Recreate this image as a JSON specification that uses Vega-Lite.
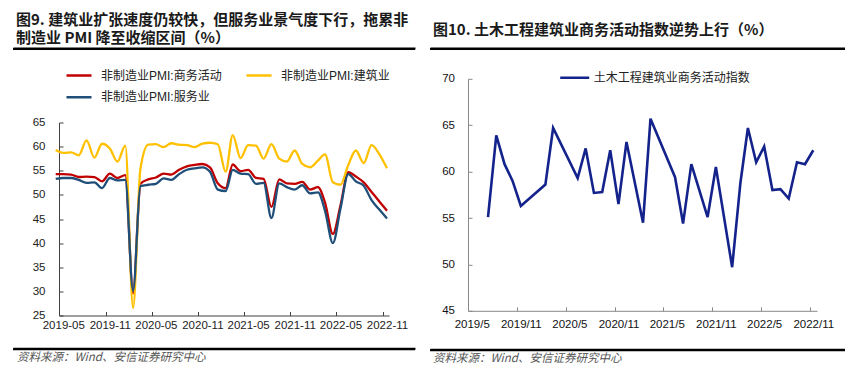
{
  "$schema": "https://vega.github.io/schema/vega-lite/v6.json",
  "padding": {"left": 13, "top": 12, "right": 0, "bottom": 0},
  "background": "white",
  "config": {
    "view": {"stroke": null},
    "font": "Liberation Sans, Noto Sans CJK SC",
    "title": {"font": "Noto Sans CJK SC", "fontWeight": "bold", "fontSize": 15, "color": "#1a1a1a", "anchor": "start"}
  },
  "spacing": 15,
  "resolve": {"scale": {"color": "independent", "x": "independent", "y": "independent"}, "legend": {"color": "independent"}},
  "hconcat": [
    {
      "title": {"text": ["图9. 建筑业扩张速度仍较快，但服务业景气度下行，拖累非", "制造业 PMI 降至收缩区间（%）"], "lineHeight": 18, "offset": 2.5, "dx": 3},
      "spacing": 17.25,
      "resolve": {"scale": {"color": "independent", "x": "independent", "y": "independent"}, "legend": {"color": "independent"}},
      "vconcat": [
        {
          "spacing": 17.5,
          "resolve": {"scale": {"color": "independent", "x": "independent", "y": "independent"}, "legend": {"color": "independent"}},
          "vconcat": [
            {"width": 402, "height": 2, "data": {"values": [{"k": 1}]}, "mark": {"type": "bar", "color": "#000000"}, "encoding": {"x": {"datum": 0, "type": "quantitative", "scale": {"domain": [0, 1]}, "axis": {"orient": "top", "domain": true, "domainColor": "#000000", "domainWidth": 2, "domainCap": "butt", "ticks": false, "labels": false, "grid": false, "title": null}}, "x2": {"datum": 1}}},
            {
              "spacing": 0,
              "resolve": {"scale": {"color": "independent", "x": "independent", "y": "independent"}, "legend": {"color": "independent"}},
              "hconcat": [
                {"width": 1, "height": 1, "data": {"values": [{"k": 1}]}, "mark": {"type": "text", "text": ""}, "encoding": {}},
                {
                  "width": 330,
                  "height": 193,
                  "data": {"values": [
                    {"m": "2019-04", "非制造业PMI:商务活动": 54.3, "非制造业PMI:建筑业": 59.3, "非制造业PMI:服务业": 53.3},
                    {"m": "2019-05", "非制造业PMI:商务活动": 54.3, "非制造业PMI:建筑业": 58.7, "非制造业PMI:服务业": 53.5},
                    {"m": "2019-06", "非制造业PMI:商务活动": 54.2, "非制造业PMI:建筑业": 58.8, "非制造业PMI:服务业": 53.5},
                    {"m": "2019-07", "非制造业PMI:商务活动": 53.7, "非制造业PMI:建筑业": 58.2, "非制造业PMI:服务业": 53.1},
                    {"m": "2019-08", "非制造业PMI:商务活动": 53.8, "非制造业PMI:建筑业": 61.3, "非制造业PMI:服务业": 52.5},
                    {"m": "2019-09", "非制造业PMI:商务活动": 53.7, "非制造业PMI:建筑业": 57.7, "非制造业PMI:服务业": 52.6},
                    {"m": "2019-10", "非制造业PMI:商务活动": 52.8, "非制造业PMI:建筑业": 60.6, "非制造业PMI:服务业": 51.4},
                    {"m": "2019-11", "非制造业PMI:商务活动": 54.4, "非制造业PMI:建筑业": 59.6, "非制造业PMI:服务业": 53.5},
                    {"m": "2019-12", "非制造业PMI:商务活动": 53.5, "非制造业PMI:建筑业": 56.9, "非制造业PMI:服务业": 53.0},
                    {"m": "2020-01", "非制造业PMI:商务活动": 54.1, "非制造业PMI:建筑业": 60.2, "非制造业PMI:服务业": 53.1},
                    {"m": "2020-02", "非制造业PMI:商务活动": 29.6, "非制造业PMI:建筑业": 26.6, "非制造业PMI:服务业": 30.1},
                    {"m": "2020-03", "非制造业PMI:商务活动": 52.3, "非制造业PMI:建筑业": 55.4, "非制造业PMI:服务业": 51.8},
                    {"m": "2020-04", "非制造业PMI:商务活动": 53.2, "非制造业PMI:建筑业": 60.4, "非制造业PMI:服务业": 52.1},
                    {"m": "2020-05", "非制造业PMI:商务活动": 53.6, "非制造业PMI:建筑业": 60.5, "非制造业PMI:服务业": 52.3},
                    {"m": "2020-06", "非制造业PMI:商务活动": 54.4, "非制造业PMI:建筑业": 59.9, "非制造业PMI:服务业": 53.4},
                    {"m": "2020-07", "非制造业PMI:商务活动": 54.2, "非制造业PMI:建筑业": 60.7, "非制造业PMI:服务业": 53.1},
                    {"m": "2020-08", "非制造业PMI:商务活动": 55.2, "非制造业PMI:建筑业": 60.4, "非制造业PMI:服务业": 54.3},
                    {"m": "2020-09", "非制造业PMI:商务活动": 55.9, "非制造业PMI:建筑业": 60.3, "非制造业PMI:服务业": 55.2},
                    {"m": "2020-10", "非制造业PMI:商务活动": 56.2, "非制造业PMI:建筑业": 59.9, "非制造业PMI:服务业": 55.5},
                    {"m": "2020-11", "非制造业PMI:商务活动": 56.4, "非制造业PMI:建筑业": 60.6, "非制造业PMI:服务业": 55.7},
                    {"m": "2020-12", "非制造业PMI:商务活动": 55.7, "非制造业PMI:建筑业": 60.8, "非制造业PMI:服务业": 54.8},
                    {"m": "2021-01", "非制造业PMI:商务活动": 52.4, "非制造业PMI:建筑业": 60.5, "非制造业PMI:服务业": 51.1},
                    {"m": "2021-02", "非制造业PMI:商务活动": 51.4, "非制造业PMI:建筑业": 54.8, "非制造业PMI:服务业": 50.8},
                    {"m": "2021-03", "非制造业PMI:商务活动": 56.3, "非制造业PMI:建筑业": 62.4, "非制造业PMI:服务业": 55.2},
                    {"m": "2021-04", "非制造业PMI:商务活动": 54.9, "非制造业PMI:建筑业": 57.6, "非制造业PMI:服务业": 54.4},
                    {"m": "2021-05", "非制造业PMI:商务活动": 55.2, "非制造业PMI:建筑业": 60.3, "非制造业PMI:服务业": 54.3},
                    {"m": "2021-06", "非制造业PMI:商务活动": 53.5, "非制造业PMI:建筑业": 60.2, "非制造业PMI:服务业": 52.3},
                    {"m": "2021-07", "非制造业PMI:商务活动": 53.3, "非制造业PMI:建筑业": 57.5, "非制造业PMI:服务业": 52.5},
                    {"m": "2021-08", "非制造业PMI:商务活动": 47.5, "非制造业PMI:建筑业": 60.5, "非制造业PMI:服务业": 45.2},
                    {"m": "2021-09", "非制造业PMI:商务活动": 53.2, "非制造业PMI:建筑业": 57.5, "非制造业PMI:服务业": 52.4},
                    {"m": "2021-10", "非制造业PMI:商务活动": 52.4, "非制造业PMI:建筑业": 56.9, "非制造业PMI:服务业": 51.6},
                    {"m": "2021-11", "非制造业PMI:商务活动": 52.3, "非制造业PMI:建筑业": 59.2, "非制造业PMI:服务业": 51.1},
                    {"m": "2021-12", "非制造业PMI:商务活动": 52.7, "非制造业PMI:建筑业": 56.4, "非制造业PMI:服务业": 52.0},
                    {"m": "2022-01", "非制造业PMI:商务活动": 51.1, "非制造业PMI:建筑业": 55.7, "非制造业PMI:服务业": 50.3},
                    {"m": "2022-02", "非制造业PMI:商务活动": 51.6, "非制造业PMI:建筑业": 57.1, "非制造业PMI:服务业": 50.5},
                    {"m": "2022-03", "非制造业PMI:商务活动": 48.4, "非制造业PMI:建筑业": 58.4, "非制造业PMI:服务业": 46.7},
                    {"m": "2022-04", "非制造业PMI:商务活动": 41.9, "非制造业PMI:建筑业": 52.6, "非制造业PMI:服务业": 40.0},
                    {"m": "2022-05", "非制造业PMI:商务活动": 47.8, "非制造业PMI:建筑业": 52.1, "非制造业PMI:服务业": 47.1},
                    {"m": "2022-06", "非制造业PMI:商务活动": 54.7, "非制造业PMI:建筑业": 56.2, "非制造业PMI:服务业": 54.3},
                    {"m": "2022-07", "非制造业PMI:商务活动": 53.8, "非制造业PMI:建筑业": 59.2, "非制造业PMI:服务业": 52.8},
                    {"m": "2022-08", "非制造业PMI:商务活动": 52.6, "非制造业PMI:建筑业": 56.6, "非制造业PMI:服务业": 51.9},
                    {"m": "2022-09", "非制造业PMI:商务活动": 50.6, "非制造业PMI:建筑业": 60.3, "非制造业PMI:服务业": 48.9},
                    {"m": "2022-10", "非制造业PMI:商务活动": 48.7, "非制造业PMI:建筑业": 58.5, "非制造业PMI:服务业": 47.0},
                    {"m": "2022-11", "非制造业PMI:商务活动": 46.7, "非制造业PMI:建筑业": 55.5, "非制造业PMI:服务业": 45.1}
                  ]},
                  "transform": [{"fold": ["非制造业PMI:商务活动", "非制造业PMI:建筑业", "非制造业PMI:服务业"], "as": ["series", "value"]}],
                  "mark": {"type": "line", "interpolate": "monotone", "strokeWidth": 2.3, "clip": false},
                  "encoding": {
                    "x": {
                      "field": "m", "type": "temporal",
                      "scale": {"type": "utc", "domain": [{"year": 2019, "month": 4, "date": 14, "utc": true}, {"year": 2022, "month": 11, "date": 9, "utc": true}]},
                      "axis": {
                        "title": null, "format": "%Y-%m", "grid": false,
                        "values": [
                          {"year": 2019, "month": 5, "date": 1, "utc": true}, {"year": 2019, "month": 11, "date": 1, "utc": true},
                          {"year": 2020, "month": 5, "date": 1, "utc": true}, {"year": 2020, "month": 11, "date": 1, "utc": true},
                          {"year": 2021, "month": 5, "date": 1, "utc": true}, {"year": 2021, "month": 11, "date": 1, "utc": true},
                          {"year": 2022, "month": 5, "date": 1, "utc": true}, {"year": 2022, "month": 11, "date": 1, "utc": true}
                        ],
                        "domainColor": "#404040", "tickColor": "#404040", "tickSize": -4, "tickOffset": -4.3, "labelOffset": 4.3,
                        "labelFontSize": 11.5, "labelColor": "#222222", "labelPadding": 8, "labelFlush": false, "labelOverlap": false
                      }
                    },
                    "y": {
                      "field": "value", "type": "quantitative",
                      "scale": {"domain": [25, 65], "zero": false},
                      "axis": {
                        "title": null, "grid": false, "values": [25, 30, 35, 40, 45, 50, 55, 60, 65],
                        "domainColor": "#404040", "tickColor": "#404040", "tickSize": -4,
                        "labelFontSize": 11.5, "labelColor": "#222222", "labelPadding": 18, "minExtent": 45
                      }
                    },
                    "color": {
                      "field": "series", "type": "nominal",
                      "scale": {"domain": ["非制造业PMI:商务活动", "非制造业PMI:建筑业", "非制造业PMI:服务业"], "range": ["#C00000", "#FFC000", "#1F4E79"]},
                      "legend": {
                        "title": null, "orient": "none", "legendX": 6, "legendY": -54.5, "direction": "horizontal", "columns": 2,
                        "columnPadding": 23, "rowPadding": 6.7, "symbolType": "stroke", "symbolSize": 625, "symbolStrokeWidth": 2.5,
                        "clipHeight": 15, "labelFontSize": 12, "labelColor": "#222222", "labelOffset": 8, "labelLimit": 300, "padding": 0
                      }
                    }
                  }
                }
              ]
            }
          ]
        },
        {
          "width": 402, "height": 2, "data": {"values": [{"k": 1}]}, "mark": {"type": "bar", "color": "#000000"}, "encoding": {"x": {"datum": 0, "type": "quantitative", "scale": {"domain": [0, 1]}, "axis": {"orient": "top", "domain": true, "domainColor": "#000000", "domainWidth": 2, "domainCap": "butt", "ticks": false, "labels": false, "grid": false, "title": null}}, "x2": {"datum": 1}},
          "title": {"text": "资料来源：Wind、安信证券研究中心", "orient": "bottom", "anchor": "start", "fontSize": 11.5, "fontWeight": "normal", "fontStyle": "italic", "color": "#555555", "offset": 2, "dx": 4}
        }
      ]
    },
    {
      "title": {"text": "图10. 土木工程建筑业商务活动指数逆势上行（%）", "offset": 10, "dx": 3},
      "spacing": 18.25,
      "resolve": {"scale": {"color": "independent", "x": "independent", "y": "independent"}, "legend": {"color": "independent"}},
      "vconcat": [
        {
          "spacing": 19.8,
          "resolve": {"scale": {"color": "independent", "x": "independent", "y": "independent"}, "legend": {"color": "independent"}},
          "vconcat": [
            {"width": 415, "height": 2, "data": {"values": [{"k": 1}]}, "mark": {"type": "bar", "color": "#000000"}, "encoding": {"x": {"datum": 0, "type": "quantitative", "scale": {"domain": [0, 1]}, "axis": {"orient": "top", "domain": true, "domainColor": "#000000", "domainWidth": 2, "domainCap": "butt", "ticks": false, "labels": false, "grid": false, "title": null}}, "x2": {"datum": 1}}},
            {
              "spacing": 0,
              "resolve": {"scale": {"color": "independent", "x": "independent", "y": "independent"}, "legend": {"color": "independent"}},
              "hconcat": [
                {"width": 1, "height": 1, "data": {"values": [{"k": 1}]}, "mark": {"type": "text", "text": ""}, "encoding": {}},
                {
                  "width": 349,
                  "height": 232,
                  "data": {"values": [
                    {"m": "2019-07", "series": "土木工程建筑业商务活动指数", "value": 55.1},
                    {"m": "2019-08", "series": "土木工程建筑业商务活动指数", "value": 63.9},
                    {"m": "2019-09", "series": "土木工程建筑业商务活动指数", "value": 60.8},
                    {"m": "2019-10", "series": "土木工程建筑业商务活动指数", "value": 59.0},
                    {"m": "2019-11", "series": "土木工程建筑业商务活动指数", "value": 56.3},
                    {"m": "2020-02", "series": "土木工程建筑业商务活动指数", "value": 58.6},
                    {"m": "2020-03", "series": "土木工程建筑业商务活动指数", "value": 64.7},
                    {"m": "2020-06", "series": "土木工程建筑业商务活动指数", "value": 59.3},
                    {"m": "2020-07", "series": "土木工程建筑业商务活动指数", "value": 62.5},
                    {"m": "2020-08", "series": "土木工程建筑业商务活动指数", "value": 57.7},
                    {"m": "2020-09", "series": "土木工程建筑业商务活动指数", "value": 57.8},
                    {"m": "2020-10", "series": "土木工程建筑业商务活动指数", "value": 62.3},
                    {"m": "2020-11", "series": "土木工程建筑业商务活动指数", "value": 56.5},
                    {"m": "2020-12", "series": "土木工程建筑业商务活动指数", "value": 63.2},
                    {"m": "2021-02", "series": "土木工程建筑业商务活动指数", "value": 54.5},
                    {"m": "2021-03", "series": "土木工程建筑业商务活动指数", "value": 65.7},
                    {"m": "2021-06", "series": "土木工程建筑业商务活动指数", "value": 59.4},
                    {"m": "2021-07", "series": "土木工程建筑业商务活动指数", "value": 54.4},
                    {"m": "2021-08", "series": "土木工程建筑业商务活动指数", "value": 60.8},
                    {"m": "2021-10", "series": "土木工程建筑业商务活动指数", "value": 55.1},
                    {"m": "2021-11", "series": "土木工程建筑业商务活动指数", "value": 60.5},
                    {"m": "2022-01", "series": "土木工程建筑业商务活动指数", "value": 49.7},
                    {"m": "2022-02", "series": "土木工程建筑业商务活动指数", "value": 58.8},
                    {"m": "2022-03", "series": "土木工程建筑业商务活动指数", "value": 64.7},
                    {"m": "2022-04", "series": "土木工程建筑业商务活动指数", "value": 61.0},
                    {"m": "2022-05", "series": "土木工程建筑业商务活动指数", "value": 62.7},
                    {"m": "2022-06", "series": "土木工程建筑业商务活动指数", "value": 58.0},
                    {"m": "2022-07", "series": "土木工程建筑业商务活动指数", "value": 58.1},
                    {"m": "2022-08", "series": "土木工程建筑业商务活动指数", "value": 57.1},
                    {"m": "2022-09", "series": "土木工程建筑业商务活动指数", "value": 61.0},
                    {"m": "2022-10", "series": "土木工程建筑业商务活动指数", "value": 60.8},
                    {"m": "2022-11", "series": "土木工程建筑业商务活动指数", "value": 62.3}
                  ]},
                  "mark": {"type": "line", "strokeWidth": 2.6, "clip": false},
                  "encoding": {
                    "x": {
                      "field": "m", "type": "temporal",
                      "scale": {"type": "utc", "domain": [{"year": 2019, "month": 4, "date": 17, "utc": true}, {"year": 2022, "month": 11, "date": 15, "utc": true}]},
                      "axis": {
                        "title": null, "format": "%Y/%-m", "grid": false,
                        "values": [
                          {"year": 2019, "month": 5, "date": 1, "utc": true}, {"year": 2019, "month": 11, "date": 1, "utc": true},
                          {"year": 2020, "month": 5, "date": 1, "utc": true}, {"year": 2020, "month": 11, "date": 1, "utc": true},
                          {"year": 2021, "month": 5, "date": 1, "utc": true}, {"year": 2021, "month": 11, "date": 1, "utc": true},
                          {"year": 2022, "month": 5, "date": 1, "utc": true}, {"year": 2022, "month": 11, "date": 1, "utc": true}
                        ],
                        "domainColor": "#898989", "tickColor": "#898989", "tickSize": -4, "tickOffset": -3.6, "labelOffset": 3.6,
                        "labelFontSize": 11.5, "labelColor": "#111111", "labelPadding": 12, "labelFlush": false, "labelOverlap": false
                      }
                    },
                    "y": {
                      "field": "value", "type": "quantitative",
                      "scale": {"domain": [45, 70], "zero": false},
                      "axis": {
                        "title": null, "grid": false, "values": [45, 50, 55, 60, 65, 70],
                        "domainColor": "#898989", "tickColor": "#898989", "tickSize": -4,
                        "labelFontSize": 11.5, "labelColor": "#111111", "labelPadding": 17.5, "minExtent": 37
                      }
                    },
                    "color": {
                      "field": "series", "type": "nominal",
                      "scale": {"range": ["#14238C"]},
                      "legend": {
                        "title": null, "orient": "none", "legendX": 90.7, "legendY": -8.5,
                        "symbolType": "stroke", "symbolSize": 841, "symbolStrokeWidth": 2.6, "clipHeight": 15,
                        "labelFontSize": 12, "labelColor": "#222222", "labelOffset": 3, "labelLimit": 300, "padding": 0
                      }
                    }
                  }
                }
              ]
            }
          ]
        },
        {
          "width": 415, "height": 2, "data": {"values": [{"k": 1}]}, "mark": {"type": "bar", "color": "#000000"}, "encoding": {"x": {"datum": 0, "type": "quantitative", "scale": {"domain": [0, 1]}, "axis": {"orient": "top", "domain": true, "domainColor": "#000000", "domainWidth": 2, "domainCap": "butt", "ticks": false, "labels": false, "grid": false, "title": null}}, "x2": {"datum": 1}},
          "title": {"text": "资料来源：Wind、安信证券研究中心", "orient": "bottom", "anchor": "start", "fontSize": 11.5, "fontWeight": "normal", "fontStyle": "italic", "color": "#555555", "offset": 2, "dx": 3}
        }
      ]
    }
  ]
}
